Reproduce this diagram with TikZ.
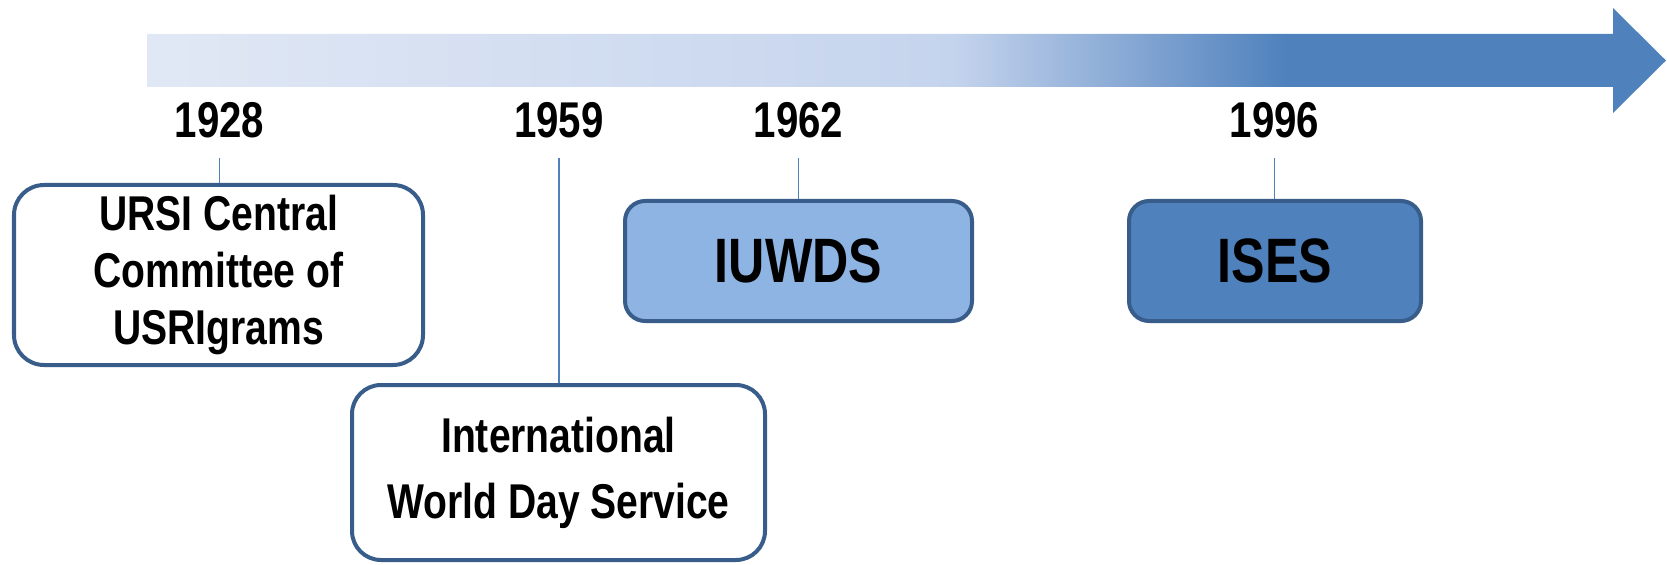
\documentclass[tikz,border=0pt]{standalone}
\usepackage{fontspec}
\setmainfont{Liberation Sans}[FakeStretch=0.8]

\definecolor{tlLight}{RGB}{225,232,245}
\definecolor{tlMid}{RGB}{197,212,237}
\definecolor{tlDark}{RGB}{79,129,189}
\definecolor{boxBorder}{RGB}{56,93,138}
\definecolor{iuwdsFill}{RGB}{142,180,227}
\definecolor{isesFill}{RGB}{79,129,189}

\pgfdeclarehorizontalshading{timeline}{100bp}{color(0bp)=(tlLight); color(25bp)=(tlLight); color(51.5bp)=(tlMid); color(62.5bp)=(tlDark); color(75bp)=(tlDark); color(100bp)=(tlDark)}

\tikzset{
  year/.style={font=\fontsize{28.6}{34}\selectfont\bfseries, inner sep=0pt, text depth=0pt, outer ysep=0.4cm},
  event/.style={draw=boxBorder, line width=0.08cm, fill=white, align=center, inner sep=0pt},
  tick/.style={draw=tlDark, line width=0.03cm}
}

\begin{document}
\begin{tikzpicture}
\useasboundingbox (0,0) rectangle (33.34,11.28);
\shade[shading=timeline] (2.94,10.6) -- (32.26,10.6) -- (32.26,11.12) -- (33.32,10.07)
  -- (32.26,9.02) -- (32.26,9.54) -- (2.94,9.54) -- cycle;
\node[year, anchor=base] (y1928) at (4.39,8.52) {1928};
\node[year, anchor=base] (y1959) at (11.18,8.52) {1959};
\node[year, anchor=base] (y1962) at (15.97,8.52) {1962};
\node[year, anchor=base] (y1996) at (25.49,8.52) {1996};
\node[event, minimum width=8.18cm, minimum height=3.6cm, rounded corners=0.6cm,
  font=\fontsize{27.8}{32.2}\selectfont\bfseries] (ursi) at (4.37,5.78)
  {URSI Central\\Committee of\\USRIgrams};
\node[event, minimum width=8.26cm, minimum height=3.5cm, rounded corners=0.58cm,
  font=\fontsize{27.8}{37.6}\selectfont\bfseries] (iwds) at (11.17,1.83)
  {International\\World Day Service};
\node[event, fill=iuwdsFill, minimum width=6.94cm, minimum height=2.4cm, rounded corners=0.4cm,
  font=\fontsize{35.7}{40}\selectfont\bfseries] (iuwds) at (15.97,6.06) {IUWDS};
\node[event, fill=isesFill, minimum width=5.84cm, minimum height=2.4cm, rounded corners=0.4cm,
  font=\fontsize{35.7}{40}\selectfont\bfseries] (ises) at (25.5,6.06) {ISES};
\foreach \yr/\ev in {1928/ursi,1959/iwds,1962/iuwds,1996/ises}
  \draw[tick] (y\yr.south) -- (y\yr.south |- \ev.north);
\end{tikzpicture}
\end{document}
